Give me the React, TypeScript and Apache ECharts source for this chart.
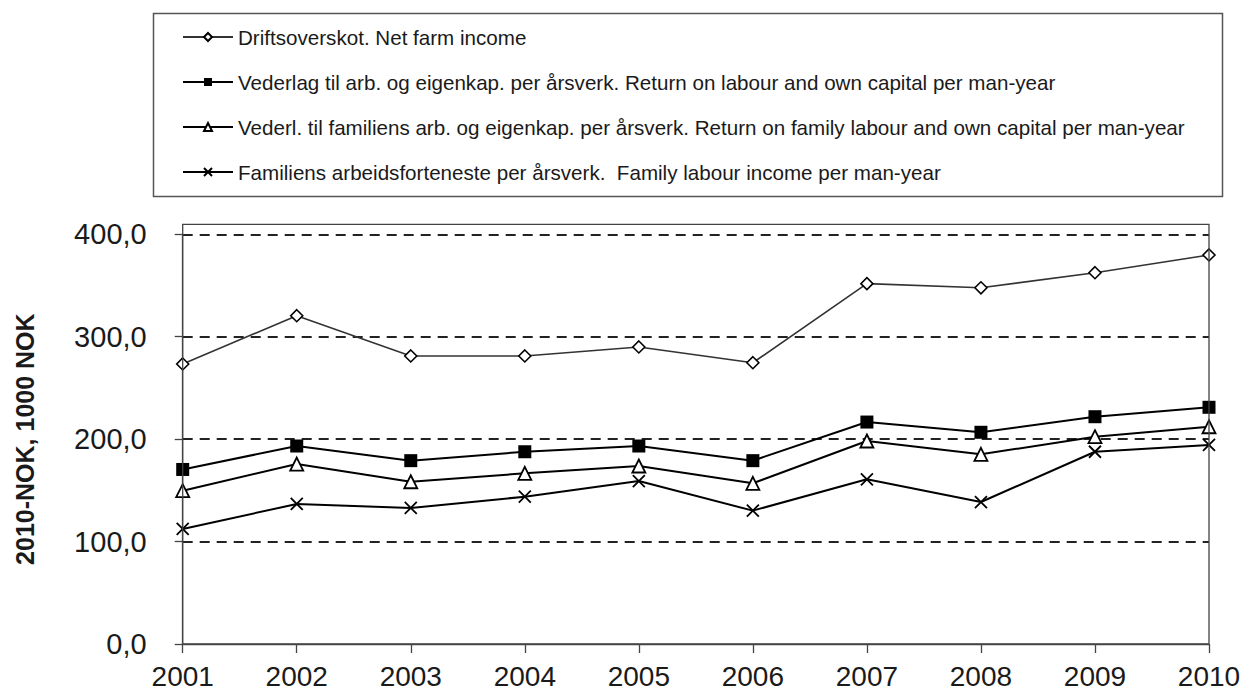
import React, { useEffect, useRef } from "react";
import * as echarts from "echarts";

const years = ["2001", "2002", "2003", "2004", "2005", "2006", "2007", "2008", "2009", "2010"];
const netFarmIncome = [273.4, 320.5, 281.2, 281.2, 290.0, 274.6, 351.8, 347.8, 362.5, 379.8];
const returnLabourCapital = [170.4, 193.3, 179.0, 187.7, 193.3, 179.0, 216.7, 206.7, 221.9, 231.1];
const returnFamilyLabourCapital = [149.7, 175.7, 158.4, 166.6, 173.8, 156.9, 198.2, 185.2, 202.4, 212.1];
const familyLabourIncome = [112.3, 136.7, 132.8, 143.8, 159.1, 130.2, 160.8, 138.6, 187.7, 194.3];
const seriesNames = [
  "Driftsoverskot. Net farm income",
  "Vederlag til arb. og eigenkap. per årsverk. Return on labour and own capital per man-year",
  "Vederl. til familiens arb. og eigenkap. per årsverk. Return on family labour and own capital per man-year",
  "Familiens arbeidsforteneste per årsverk.  Family labour income per man-year",
];
const yAxisTitle = "2010-NOK, 1000 NOK";

const FONT = "'Liberation Sans', Arial, sans-serif";

export default function App() {
  const ref = useRef<HTMLDivElement>(null);
  useEffect(() => {
    if (!ref.current) return;
    const chart = echarts.init(ref.current, undefined, { renderer: "svg" });
    chart.setOption({
      animation: false,
      backgroundColor: "#fff",
      textStyle: { fontFamily: FONT },
      grid: { left: 182.7, right: 35, top: 234.3, bottom: 49 },
      legend: {
        orient: "vertical",
        left: 182,
        top: 26,
        padding: 0,
        itemWidth: 50,
        itemHeight: 10,
        itemGap: 23,
        textStyle: { fontFamily: FONT, fontSize: 20.6, color: "#1a1a1a", lineHeight: 22 },
        data: seriesNames,
      },
      graphic: [
        {
          type: "rect",
          shape: { x: 153.5, y: 13.5, width: 1069, height: 183 },
          style: { fill: "none", stroke: "#555", lineWidth: 1.5 },
          silent: true,
        },
        {
          type: "rect",
          shape: { x: 182.7, y: 224.3, width: 1026.3, height: 419.7 },
          style: { fill: "none", stroke: "#444", lineWidth: 1.3 },
          silent: true,
          z: 10,
        },
      ],
      xAxis: {
        type: "category",
        data: years,
        boundaryGap: false,
        axisLine: { show: true, lineStyle: { color: "#444", width: 1.3 } },
        axisTick: { show: true, length: 9, alignWithLabel: true, lineStyle: { color: "#444", width: 1.3 } },
        axisLabel: { fontFamily: FONT, fontSize: 28, color: "#1a1a1a", margin: 18 },
        splitLine: { show: false },
      },
      yAxis: {
        type: "value",
        min: 0,
        max: 400,
        interval: 100,
        name: yAxisTitle,
        nameLocation: "middle",
        nameGap: 145,
        nameTextStyle: { fontFamily: FONT, fontSize: 25, fontWeight: "bold", color: "#1a1a1a" },
        axisLine: { show: true, lineStyle: { color: "#444", width: 1.3 } },
        axisTick: { show: true, length: 8, lineStyle: { color: "#444", width: 1.3 } },
        axisLabel: {
          fontFamily: FONT,
          fontSize: 29,
          color: "#1a1a1a",
          margin: 36,
          formatter: (v: number) => v.toFixed(1).replace(".", ","),
        },
        splitLine: {
          show: true,
          showMinLine: false,
          lineStyle: { color: "#222", width: 2, type: [10, 7] },
        },
      },
      series: [
        {
          name: seriesNames[0],
          type: "line",
          data: netFarmIncome,
          symbol: "diamond",
          symbolSize: 12,
          lineStyle: { color: "#333", width: 1.6 },
          itemStyle: { color: "#fff", borderColor: "#000", borderWidth: 1.6 },
          z: 5,
        },
        {
          name: seriesNames[1],
          type: "line",
          data: returnLabourCapital,
          symbol: "rect",
          symbolSize: 13,
          lineStyle: { color: "#000", width: 2 },
          itemStyle: { color: "#000", borderColor: "#000", borderWidth: 0 },
          z: 5,
        },
        {
          name: seriesNames[2],
          type: "line",
          data: returnFamilyLabourCapital,
          symbol: "triangle",
          symbolSize: 13,
          lineStyle: { color: "#000", width: 2 },
          itemStyle: { color: "#fff", borderColor: "#000", borderWidth: 1.8 },
          z: 5,
        },
        {
          name: seriesNames[3],
          type: "line",
          data: familyLabourIncome,
          symbol: "path://M0,0L10,10M10,0L0,10",
          symbolSize: 12,
          lineStyle: { color: "#000", width: 2 },
          itemStyle: { color: "#000", borderColor: "#000", borderWidth: 1.8 },
          z: 5,
        },
      ],
    });
    return () => chart.dispose();
  }, []);
  return (
    <div
      ref={ref}
      style={{ position: "fixed", left: 0, top: 0, width: 1244, height: 693, background: "#fff" }}
    />
  );
}
